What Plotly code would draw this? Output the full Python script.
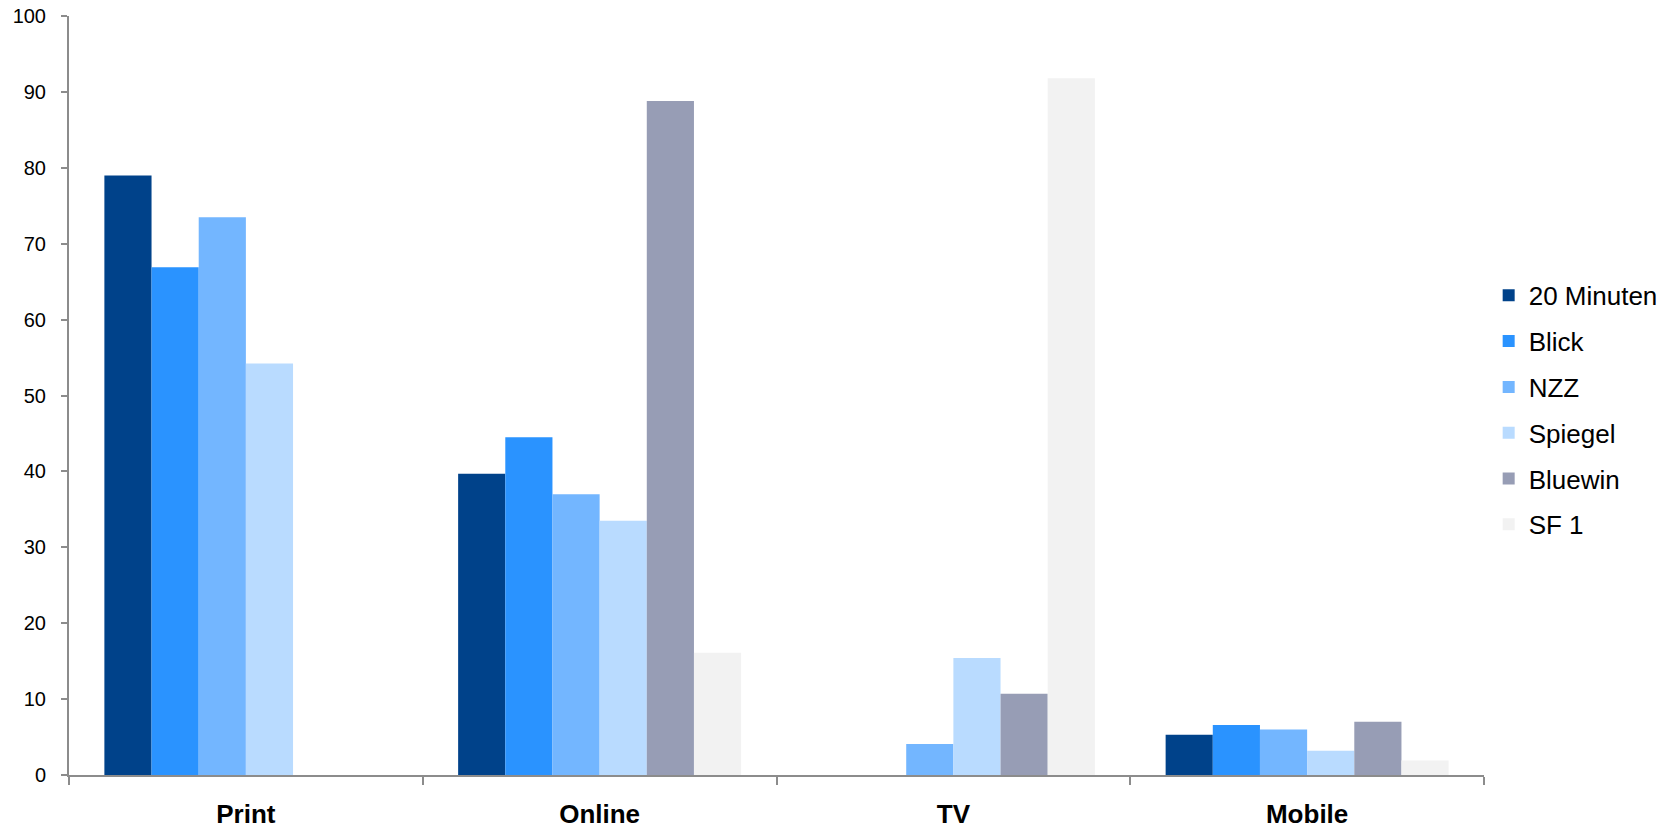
import plotly.graph_objects as go

categories = ["Print", "Online", "TV", "Mobile"]
series_names = ["20 Minuten", "Blick", "NZZ", "Spiegel", "Bluewin", "SF 1"]
values_20min = [79.0, 39.7, None, 5.3]
values_blick = [66.9, 44.5, None, 6.6]
values_nzz = [73.5, 37.0, 4.1, 6.0]
values_spiegel = [54.2, 33.5, 15.4, 3.2]
values_bluewin = [None, 88.8, 10.7, 7.0]
values_sf1 = [None, 16.1, 91.8, 1.9]
colors = ["#00428A", "#2A93FF", "#73B6FF", "#B9DBFF", "#979DB5", "#F2F2F2"]
y_ticks = list(range(0, 101, 10))

all_values = [values_20min, values_blick, values_nzz, values_spiegel, values_bluewin, values_sf1]

fig = go.Figure()
for name, vals, col in zip(series_names, all_values, colors):
    fig.add_trace(go.Bar(
        name=name, x=categories, y=vals,
        marker=dict(color=col, line=dict(width=0)),
        legendgroup=name,
    ))

axis_color = "#8C8C8C"
font_family = "Liberation Sans, Arial, sans-serif"
fig.update_layout(
    width=1675, height=829,
    paper_bgcolor="white", plot_bgcolor="white",
    margin=dict(l=69, r=191, t=16, b=54, autoexpand=False),
    barmode="group", bargap=0.2, bargroupgap=0,
    font=dict(family=font_family, color="black"),
    showlegend=True,
    legend=dict(
        x=1.0033, xanchor="left", y=0.481, yanchor="middle",
        font=dict(size=26, color="black", family=font_family),
        tracegroupgap=9,
        bgcolor="rgba(0,0,0,0)",
    ),
    xaxis=dict(
        type="category",
        tickson="boundaries",
        ticks="outside", ticklen=8, tickwidth=2, tickcolor=axis_color,
        showline=True, linecolor=axis_color, linewidth=2,
        showgrid=False, zeroline=False,
        tickfont=dict(size=26, color="black", family=font_family, weight="bold"),
        ticklabelstandoff=15,
    ),
    yaxis=dict(
        range=[0, 100], tickvals=y_ticks,
        ticks="outside", ticklen=6, tickwidth=2, tickcolor=axis_color,
        showline=True, linecolor=axis_color, linewidth=2,
        showgrid=False, zeroline=False,
        tickfont=dict(size=20, color="black", family=font_family),
        ticklabelstandoff=11,
    ),
)

fig.write_html(
    "out.html",
    config={"displayModeBar": False},
    post_script="document.body.style.margin='0';document.body.style.overflow='hidden';",
)
